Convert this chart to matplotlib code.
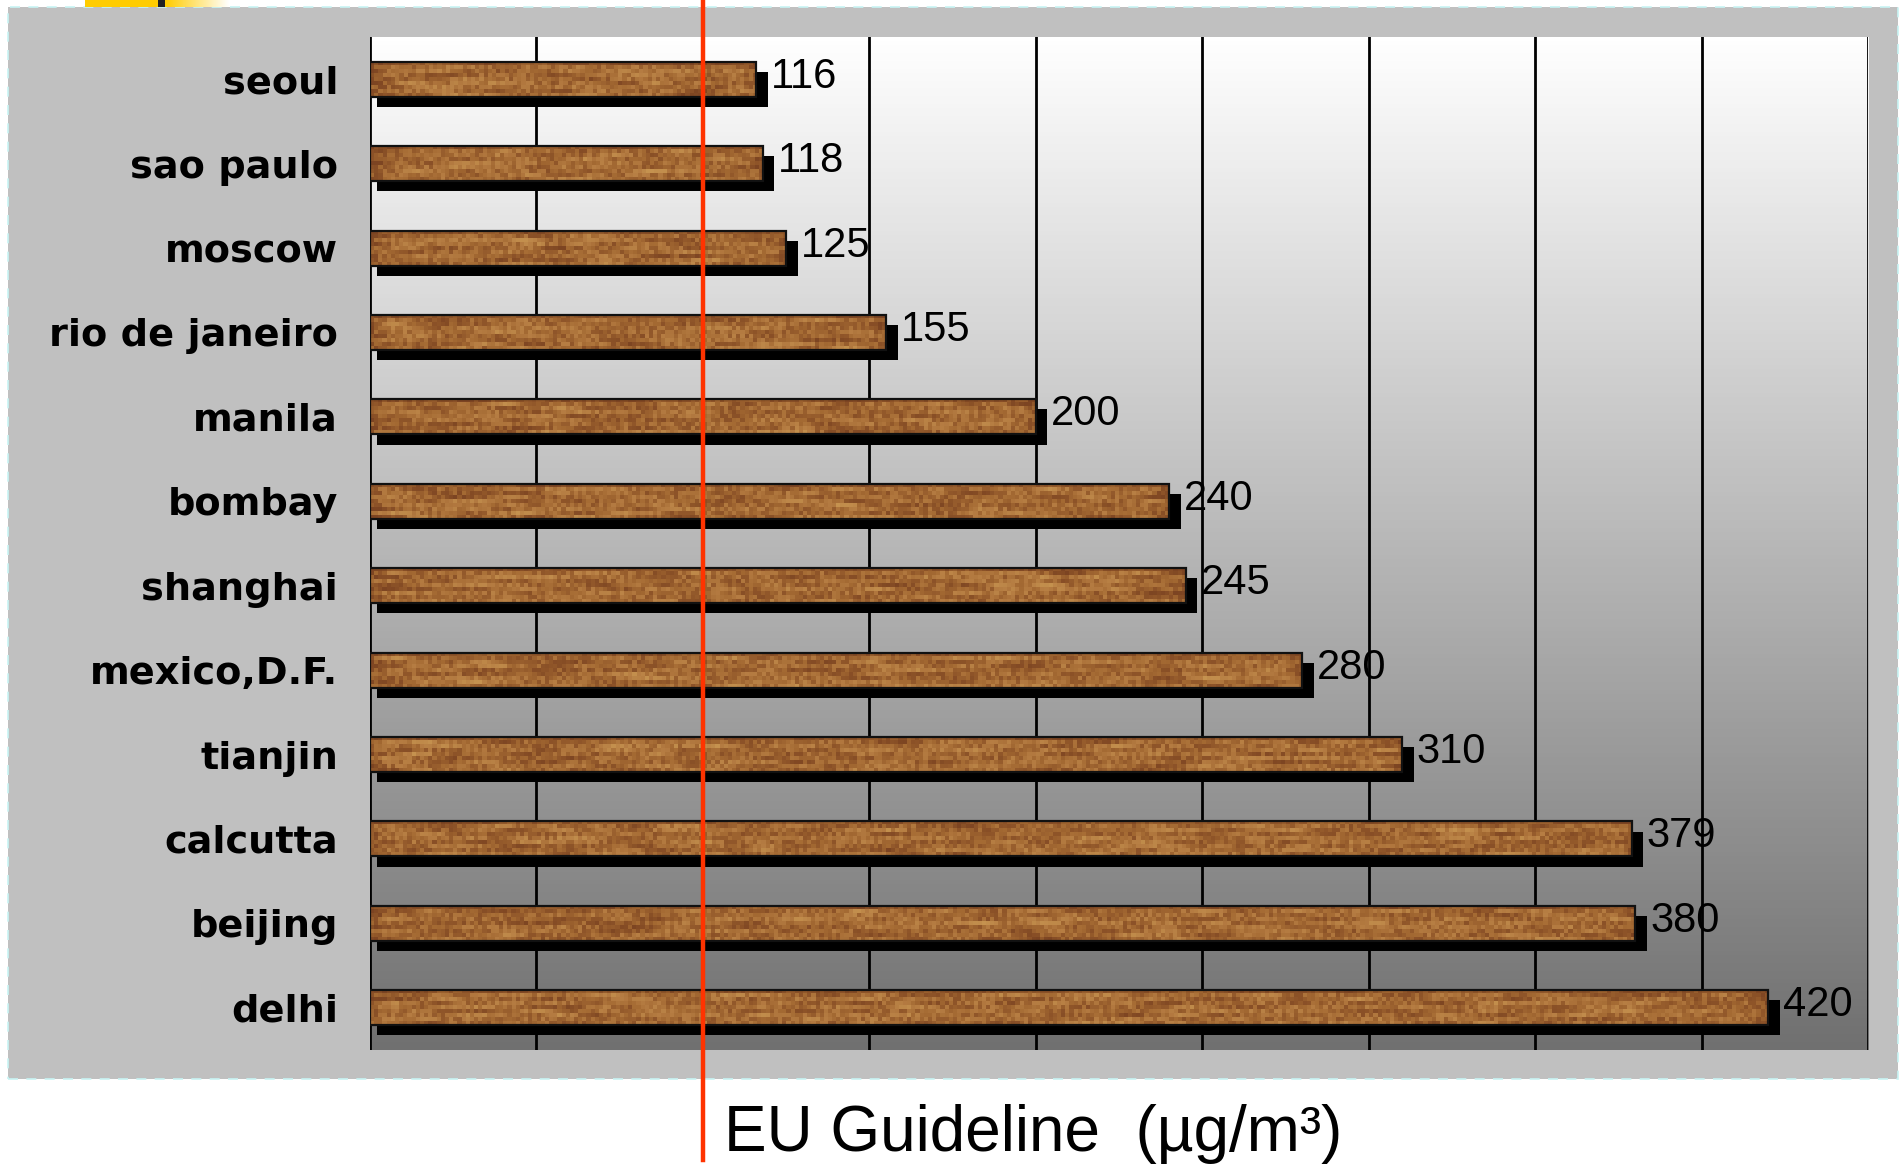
import numpy as np
import matplotlib
matplotlib.use("Agg")
import matplotlib.pyplot as plt
from matplotlib.patches import Rectangle
from matplotlib.colors import LinearSegmentedColormap
from matplotlib.transforms import blended_transform_factory

cities = ["seoul", "sao paulo", "moscow", "rio de janeiro", "manila", "bombay",
          "shanghai", "mexico,D.F.", "tianjin", "calcutta", "beijing", "delhi"]
values = [116, 118, 125, 155, 200, 240, 245, 280, 310, 379, 380, 420]
eu_guideline = 100
grid_ticks = list(range(0, 451, 50))

W, H = 1901, 1166
fig = plt.figure(figsize=(W / 100, H / 100), dpi=100)
fig.patch.set_facecolor("white")

# grey panel with dashed cyan border
fig.patches.append(Rectangle((8 / W, 87 / H), 1890 / W, 1072 / H, transform=fig.transFigure,
                             facecolor="#c0c0c0", edgecolor="#c8f4f4", lw=1.2,
                             linestyle=(0, (6, 5)), zorder=-5))
# little yellow tab at the top-left
fig.patches.append(Rectangle((85 / W, (H - 7) / H), 73 / W, 7 / H, transform=fig.transFigure,
                             facecolor="#ffcc00", edgecolor="none", zorder=-4))
fig.patches.append(Rectangle((158 / W, (H - 7) / H), 7 / W, 7 / H, transform=fig.transFigure,
                             facecolor="#222222", edgecolor="none", zorder=-4))
tab = fig.add_axes([165 / W, (H - 7) / H, 65 / W, 7 / H])
tab.imshow(np.linspace(0, 1, 50)[None, :], aspect="auto",
           cmap=LinearSegmentedColormap.from_list("tab", ["#ffcc00", "#ffffff"]))
tab.axis("off")

ax = fig.add_axes([370 / W, 116 / H, 1498 / W, 1013 / H])
ax.set_xlim(0, 450)
ax.set_ylim(len(cities) - 0.5, -0.5)

# background gradient white -> grey
grad = np.linspace(0, 1, 256)[:, None]
ax.imshow(grad, extent=(0, 450, len(cities) - 0.5, -0.5), aspect="auto", zorder=0,
          cmap=LinearSegmentedColormap.from_list("bg", ["#ffffff", "#707070"]))

for t in grid_ticks:
    ax.axvline(t, color="black", lw=2, zorder=1)

y = np.arange(len(cities))
bh = 0.415
# shadow
ax.barh(y + 0.12, [v + 1.5 for v in values], left=2, height=bh, color="black", zorder=2)


def wood_texture(ncols, nrows, seed):
    # blocky wood look: hashed noise plus horizontal grain streaks
    xx, yy = np.meshgrid(np.arange(ncols), np.arange(nrows))
    h = np.sin(xx * 12.9898 + yy * 78.233 + seed * 3.7) * 43758.5453
    noise = h - np.floor(h)
    k = np.ones(9) / 9
    streak = np.array([np.convolve(r, k, mode="same") for r in noise])
    tex = 0.35 * noise + 0.65 * streak
    tex[0] *= 0.6
    return tex


wood = LinearSegmentedColormap.from_list("wood", ["#7c4422", "#8f5529", "#a46a33", "#b57c42", "#c5924f"])
bars = ax.barh(y, values, height=bh, facecolor="none", edgecolor="#111111", lw=1.6, zorder=4)
for i, (b, v) in enumerate(zip(bars, values)):
    tex = wood_texture(int(v / 1.25), 9, i)
    im = ax.imshow(tex, extent=(0, v, i + bh / 2, i - bh / 2), aspect="auto",
                   cmap=wood, interpolation="nearest", zorder=3, vmin=0.15, vmax=0.85)
    im.set_clip_path(b)
    ax.text(v + 4.5, i - 0.03, str(v), va="center", ha="left", fontsize=30,
            family="Liberation Sans", zorder=5)

# EU guideline line, running past the axes
trans = blended_transform_factory(ax.transData, fig.transFigure)
ax.plot([eu_guideline, eu_guideline], [6 / H, 1.0], transform=trans, color="#ff3300",
        lw=3.2, clip_on=False, zorder=6)
fig.text(724 / W, 32 / H, "EU Guideline  (µg/m³)", fontsize=46, va="center", ha="left",
         family="Liberation Sans")

ax.set_yticks(y)
ax.set_yticklabels(cities, fontsize=27.5, fontweight="bold", family="DejaVu Sans")
ax.tick_params(axis="y", length=0, pad=23)
ax.set_xticks([])
for s in ax.spines.values():
    s.set_visible(False)

fig.savefig("out.png", dpi=100)
